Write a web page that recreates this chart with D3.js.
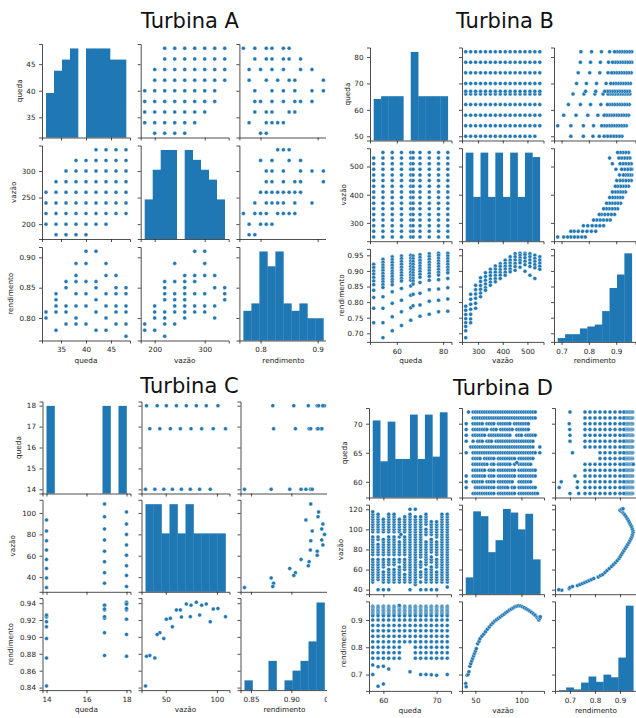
<!DOCTYPE html>
<html>
<head>
<meta charset="utf-8">
<style>
  body { margin: 0; background: #fff; }
  text { font-family: "DejaVu Sans", sans-serif; fill: #222; }
  .titulo { font-size: 21px; fill: #111; }
  .rotulo { font-size: 7.3px; }
  .tick text { font-size: 7.2px; fill: #222; }
  .tick line, .domain { stroke: #222; stroke-width: 0.8; }
</style>
<script src="https://cdn.jsdelivr.net/npm/d3@7"></script>
</head>
<body>
<script>
var W = 636, H = 718;
var AZUL = "#1f77b4";
var nomes = ["queda", "vazão", "rendimento"];

// ---------------- Turbina A ----------------
var quedaA = [32, 34, 36, 38, 40, 42, 44, 46, 48];
var vazaoPorQuedaA = [
  [200, 220, 240, 260],
  [180, 200, 220, 240, 260, 280],
  [180, 200, 220, 240, 260, 280, 300],
  [180, 200, 220, 240, 260, 280, 300, 320],
  [180, 200, 220, 240, 260, 280, 300, 320],
  [200, 220, 240, 260, 280, 300, 320, 340],
  [200, 220, 240, 260, 280, 300, 320, 340],
  [220, 240, 260, 280, 300, 320, 340],
  [220, 240, 260, 280, 300, 320, 340]
];
var rendPorQuedaA = [
  [0.81, 0.80],
  [0.84, 0.83, 0.82, 0.81, 0.78],
  [0.86, 0.85, 0.82, 0.81, 0.79],
  [0.89, 0.87, 0.86, 0.84, 0.82, 0.80, 0.79],
  [0.91, 0.89, 0.86, 0.84, 0.82, 0.79],
  [0.91, 0.86, 0.85, 0.83, 0.81, 0.78],
  [0.89, 0.87, 0.84, 0.82, 0.80, 0.78],
  [0.87, 0.85, 0.84, 0.82, 0.81, 0.79],
  [0.85, 0.84, 0.82, 0.81, 0.79, 0.77]
];
var vazaoA = [180, 200, 220, 240, 260, 280, 300, 320, 340];
var rendPorVazaoA = [
  [0.79, 0.78],
  [0.82, 0.81, 0.80, 0.78],
  [0.86, 0.85, 0.84, 0.83, 0.81, 0.80, 0.79, 0.77],
  [0.89, 0.86, 0.84, 0.83, 0.82, 0.81, 0.79],
  [0.87, 0.86, 0.85, 0.84, 0.83, 0.82, 0.81, 0.80],
  [0.91, 0.87, 0.86, 0.84, 0.82, 0.81],
  [0.91, 0.89, 0.87, 0.84, 0.82, 0.81],
  [0.87, 0.85, 0.82, 0.80],
  [0.85, 0.84, 0.83]
];
var histQuedaA = [4, 6, 7, 8, 0, 8, 8, 8, 7, 7];
var histVazaoA = [4, 7, 9, 9, 0, 9, 8, 7, 6, 4];
var histRendA = [4, 5, 12, 10, 12, 5, 4, 5, 3, 3];
var ticksXA = [[35, 40, 45], [200, 300], [0.8, 0.9]];
var ticksYA = [[35, 40, 45], [200, 250, 300], [0.80, 0.85, 0.90]];

// ---------------- Turbina B ----------------
var quedaB = [50, 54, 58, 62, 66, 67, 70, 74, 78, 82];
var vazaoB = [250, 270, 290, 310, 330, 350, 370, 390, 410, 430, 450, 470, 490, 510, 530, 550];
var faltaB = [[50, 550]];
var rendPorQuedaB = [
  [0.921, 0.911, 0.900, 0.890, 0.879, 0.868, 0.856, 0.838, 0.815, 0.780, 0.734],
  [0.937, 0.928, 0.919, 0.910, 0.901, 0.892, 0.883, 0.874, 0.865, 0.856, 0.847, 0.817, 0.780, 0.734, 0.686],
  [0.945, 0.936, 0.927, 0.918, 0.909, 0.900, 0.891, 0.882, 0.873, 0.865, 0.856, 0.833, 0.796, 0.753, 0.708],
  [0.948, 0.939, 0.930, 0.921, 0.912, 0.903, 0.894, 0.885, 0.876, 0.868, 0.844, 0.806, 0.769, 0.725],
  [0.950, 0.941, 0.932, 0.923, 0.914, 0.905, 0.896, 0.887, 0.878, 0.870, 0.852, 0.822, 0.782, 0.742],
  [0.948, 0.939, 0.930, 0.921, 0.912, 0.903, 0.894, 0.885, 0.876, 0.868, 0.858, 0.825, 0.788],
  [0.952, 0.943, 0.934, 0.925, 0.916, 0.907, 0.898, 0.889, 0.880, 0.863, 0.828, 0.791, 0.755],
  [0.955, 0.946, 0.937, 0.928, 0.919, 0.910, 0.901, 0.892, 0.883, 0.870, 0.840, 0.803, 0.761],
  [0.957, 0.950, 0.941, 0.932, 0.923, 0.914, 0.905, 0.896, 0.887, 0.872, 0.842, 0.806, 0.769],
  [0.957, 0.948, 0.939, 0.930, 0.921, 0.912, 0.903, 0.894, 0.876, 0.846, 0.810, 0.771]
];
var rendPorVazaoB = [
  [0.787, 0.774, 0.760, 0.747, 0.734, 0.722, 0.708, 0.686],
  [0.825, 0.809, 0.793, 0.777, 0.761, 0.746, 0.734],
  [0.854, 0.840, 0.826, 0.812, 0.796, 0.780],
  [0.878, 0.866, 0.853, 0.841, 0.829, 0.817],
  [0.894, 0.882, 0.870, 0.858, 0.846, 0.838],
  [0.905, 0.895, 0.885, 0.874, 0.864, 0.854],
  [0.916, 0.906, 0.896, 0.885, 0.875, 0.865],
  [0.923, 0.914, 0.904, 0.895, 0.886, 0.876],
  [0.934, 0.924, 0.915, 0.906, 0.896, 0.886],
  [0.945, 0.935, 0.925, 0.916, 0.906, 0.897],
  [0.955, 0.945, 0.935, 0.924, 0.914, 0.902],
  [0.957, 0.950, 0.942, 0.934, 0.926, 0.912],
  [0.957, 0.952, 0.942, 0.931, 0.920, 0.899],
  [0.955, 0.945, 0.935, 0.925, 0.914, 0.886],
  [0.950, 0.940, 0.930, 0.920, 0.910, 0.876],
  [0.945, 0.935, 0.925, 0.915, 0.905]
];
var histQuedaB = [15, 16, 16, 16, 0, 32, 16, 16, 16, 16];
var histVazaoB = [20, 10, 20, 10, 20, 10, 20, 10, 20, 19];
var histRendB = [2, 4, 4, 7, 8, 9, 16, 28, 35, 46];
var ticksXB = [[60, 80], [300, 400, 500], [0.7, 0.8, 0.9]];
var ticksYB = [[50, 60, 70, 80], [300, 400, 500], [0.70, 0.75, 0.80, 0.85, 0.90, 0.95]];

// ---------------- Turbina C (registros completos) ----------------
var quedaC = [14, 14, 14, 14, 14, 14, 14, 14,
              16.9, 16.9, 16.9, 16.9, 16.9, 16.9, 16.9, 16.9,
              18, 18, 18, 18, 18, 18, 18, 18];
var vazaoC = [30.2, 39.3, 48.1, 56.5, 65.3, 74.0, 83.1, 93.5,
              34.4, 44.2, 54.5, 64.3, 74.7, 85.1, 96.4, 108.4,
              31.2, 41.6, 50.6, 60.4, 70.1, 79.9, 89.6, 101];
var rendC = [0.842, 0.875, 0.898, 0.912, 0.9235, 0.924, 0.9258, 0.918,
             0.878, 0.905, 0.922, 0.932, 0.9376, 0.9376, 0.933, 0.924,
             0.877, 0.903, 0.921, 0.932, 0.939, 0.941, 0.939, 0.9337];
var ticksXC = [[14, 16, 18], [50, 100], [0.85, 0.90, 0.95]];
var ticksYC = [[14, 15, 16, 17, 18], [40, 60, 80, 100], [0.84, 0.86, 0.88, 0.90, 0.92, 0.94]];

// ---------------- Turbina D ----------------
var quedaD = [58, 59, 60, 61, 62, 63, 64, 65, 66, 67, 68, 69, 70, 71, 72];
var vazaoSlotsD = [40, 42.5, 45, 47.5, 50, 52.5, 55, 57.5, 60, 62.5, 65, 67.5, 70, 72.5, 75, 77.5,
                   80, 82.5, 85, 87.5, 90, 92.5, 95, 97.5, 100, 102.5, 105, 107.5, 110, 112.5, 115, 117.5, 120];
var mascaraVazaoD = [
  "...xxxxxxxxxx.xxxxxxxx.xxxxxxxxx.",
  "x...xxxxxxxxx.xxxxx.xx.xxxxxxxx..",
  "x..xxxxx.xxxx.xxxxxxx..xxxxxx....",
  "x..xxxxxx.xxx.xxxxxxxx.xxxxxxxx..",
  "...xxxxxx.xxx.xxxxxxxx.xxxxxxxx..",
  "...xxxxxxx.xx.xxxxxx.x.xxxxxx....",
  "...xxxx.xxxxx.xxxxxxxx.xxxxxxx...",
  "x..xxxxxxxxxxxxxxxxxxxxxxxxxxxx.x",
  "..xxxxxxxxxxxxxxxxxxxxxxxxxxxx..x",
  "x..x.xxx.xxx.xxxxxxxxxxxxxxxxx...",
  "x..xxxxxx.xxxxxxxxxx..xxx.xxxxx..",
  "x..xxxxxxx.xxx.xxxxxx.xxxxxx.....",
  "x..xxxxx.xxxx.xxxxxx.xxxxxxx.....",
  "...xxxxxxxxxxxxxxxxxxxxxxxxxxxx..",
  ".x.xxxxxxxxxxxxxxxxxxxxxxxxxxxx.."
];
var extraQuedaVazaoD = [[63.3, 95]];
var rendSlotsD = [0.95, 0.945, 0.94, 0.935, 0.93, 0.925, 0.92, 0.915, 0.90, 0.88, 0.86, 0.84, 0.82, 0.80, 0.78, 0.76];
var mascaraRendD = [
  "xxxxxxxxxxxxxxxx",
  "xxxxxxxxxxxxxxxx",
  "xxxxxxxxxxxxxxxx",
  "xxxxxxxxxxxxxxxx",
  "xxxxxxxxxxxxxxxx",
  "xxxxxxxxxxxxxxxx",
  "xxxxxxxxxxxxx...",
  "xxxxxxxxxxxxx...",
  "xxxxxxxxxxxxxxxx",
  "xxxxxxxxxxxxxxxx",
  "xxxxxxxxxxxxxxxx",
  "xxxxxxxxxxxxxxxx",
  "xxxxxxxxxxxxxxxx",
  "xxxxxxxxxxxxxxxx",
  "xxxxxxxxxxxxxxxx"
];
var extraQuedaRendD = [[58, 0.735], [58, 0.70], [59, 0.729], [59, 0.657], [60, 0.73], [60, 0.665],
                       [61, 0.72], [63, 0.953], [65, 0.71], [67, 0.70], [68, 0.70], [69, 0.699],
                       [70, 0.697], [72, 0.70]];
var curvaVazaoRendD = [
  [39.5, 0.667], [40, 0.655], [41, 0.697], [42, 0.700], [43, 0.71], [44, 0.73], [45, 0.74],
  [46, 0.75], [47, 0.759], [48, 0.768], [49, 0.777], [50, 0.786], [51, 0.795], [52.5, 0.813],
  [54, 0.822], [55, 0.831], [57, 0.84], [59, 0.848], [61, 0.857], [63, 0.866], [65, 0.874],
  [67, 0.882], [69, 0.889], [71, 0.896], [73, 0.901], [75, 0.906], [77, 0.911], [79, 0.916],
  [81, 0.921], [83, 0.926], [85, 0.931], [87, 0.936], [89, 0.940], [91, 0.944], [93, 0.948],
  [95, 0.950], [97, 0.952], [99, 0.951], [101, 0.948], [103, 0.945], [105, 0.941], [107, 0.937],
  [109, 0.933], [111, 0.928], [113, 0.923], [115, 0.917], [117, 0.910], [118, 0.905],
  [119, 0.900], [120, 0.906], [120.5, 0.912]
];
var histQuedaD = [66, 31, 65, 33, 33, 71, 33, 71, 35, 73];
var histVazaoD = [14, 69, 65, 35, 45, 71, 68, 54, 67, 29];
var histRendD = [2, 9, 4, 22, 38, 24, 43, 36, 88, 225];
var ticksXD = [[60, 70], [50, 100], [0.7, 0.8, 0.9]];
var ticksYD = [[60, 65, 70], [40, 60, 80, 100, 120], [0.7, 0.8, 0.9]];

// ---------------- helpers ----------------
function pares(chaves, listas) {
  var out = [];
  chaves.forEach(function(k, i) { listas[i].forEach(function(v) { out.push([k, v]); }); });
  return out;
}
function deMascara(chaves, slots, mascaras) {
  var out = [];
  chaves.forEach(function(k, i) {
    mascaras[i].split("").forEach(function(c, s) { if (c === "x") out.push([k, slots[s]]); });
  });
  return out;
}
function contar(vals) {
  var ext = d3.extent(vals), passo = (ext[1] - ext[0]) / 10;
  var lim = d3.range(1, 10).map(function(k) { return ext[0] + k * passo; });
  return d3.bin().domain(ext).thresholds(lim)(vals).map(function(b) { return b.length; });
}

var svg = d3.select("body").append("svg")
  .attr("width", W).attr("height", H)
  .style("display", "block");

function pairplot(c) {
  var g = svg.append("g");
  if (c.clip) {
    svg.append("clipPath").attr("id", "clip" + c.id)
      .append("rect").attr("x", 0).attr("y", 0).attr("width", c.clip).attr("height", H);
    g.attr("clip-path", "url(#clip" + c.id + ")");
  }
  g.append("text").attr("class", "titulo")
    .attr("x", c.tx).attr("y", c.ty).attr("text-anchor", "middle").text(c.titulo);

  var p = c.pares;
  var ext = [
    d3.extent(p["10"].map(d => d[0]).concat(p["20"].map(d => d[0]))),
    d3.extent(p["10"].map(d => d[1]).concat(p["21"].map(d => d[0]))),
    d3.extent(p["20"].map(d => d[1]).concat(p["21"].map(d => d[1])))
  ];
  var dom = ext.map(function(e) { var m = (e[1] - e[0]) * 0.05; return [e[0] - m, e[1] + m]; });
  var fx = [d3.format("d"), d3.format("d"), d3.format(c.fmtXr)];
  var fy = [d3.format("d"), d3.format("d"), d3.format(c.fmtYr)];

  for (var i = 0; i < 3; i++) {
    for (var j = 0; j < 3; j++) {
      var px = c.x0 + j * c.sx, py = c.y0 + i * c.sy;
      var x = d3.scaleLinear().domain(dom[j]).range([px, px + c.w]);
      var y = d3.scaleLinear().domain(dom[i]).range([py + c.h, py]);
      var cel = g.append("g");

      if (i === j) {
        var cont = c.hist[i], e = ext[i], passo = (e[1] - e[0]) / cont.length;
        var hy = d3.scaleLinear().domain([0, d3.max(cont) * 1.05]).range([py + c.h, py]);
        cel.selectAll("rect").data(cont).join("rect")
          .attr("x", (d, k) => x(e[0] + k * passo))
          .attr("width", (d, k) => x(e[0] + (k + 1) * passo) - x(e[0] + k * passo) + 0.3)
          .attr("y", d => hy(d))
          .attr("height", d => hy(0) - hy(d))
          .attr("fill", AZUL);
      } else {
        var pts = i > j ? p["" + i + j] : p["" + j + i].map(d => [d[1], d[0]]);
        cel.selectAll("circle").data(pts).join("circle")
          .attr("cx", d => x(d[0]))
          .attr("cy", d => y(d[1]))
          .attr("r", 2)
          .attr("fill", AZUL)
          .attr("stroke", "#fff")
          .attr("stroke-width", 0.4);
      }

      var axB = d3.axisBottom(x).tickValues(c.ticksX[j]).tickSizeOuter(0).tickSize(3).tickPadding(3.5)
        .tickFormat(i === 2 ? fx[j] : "");
      cel.append("g").attr("transform", "translate(0," + (py + c.h) + ")").call(axB);
      var axL = d3.axisLeft(y).tickValues(c.ticksY[i]).tickSizeOuter(0).tickSize(3).tickPadding(3.5)
        .tickFormat(j === 0 ? fy[i] : "");
      cel.append("g").attr("transform", "translate(" + px + ",0)").call(axL);

      if (i === 2) {
        g.append("text").attr("class", "rotulo")
          .attr("x", px + c.w / 2).attr("y", c.ly).attr("text-anchor", "middle").text(nomes[j]);
      }
      if (j === 0) {
        g.append("text").attr("class", "rotulo")
          .attr("transform", "translate(" + c.lx[i] + "," + (py + c.h / 2) + ") rotate(-90)")
          .attr("text-anchor", "middle").text(nomes[i]);
      }
    }
  }
}

// pares do triângulo inferior: "10" = (queda, vazão), "20" = (queda, rend.), "21" = (vazão, rend.)
var qvB = [];
quedaB.forEach(function(q) {
  vazaoB.forEach(function(v) {
    if (!faltaB.some(f => f[0] === q && f[1] === v)) qvB.push([q, v]);
  });
});

var paresC = {
  "10": quedaC.map((q, k) => [q, vazaoC[k]]),
  "20": quedaC.map((q, k) => [q, rendC[k]]),
  "21": vazaoC.map((v, k) => [v, rendC[k]])
};

pairplot({
  id: "A", titulo: "Turbina A", tx: 190, ty: 27.5, clip: 326,
  x0: 42, sx: 98.7, w: 88, y0: 44, sy: 101.5, h: 93.5, lx: [22, 16, 13], ly: 362.5,
  fmtXr: ".1f", fmtYr: ".2f", ticksX: ticksXA, ticksY: ticksYA,
  hist: [histQuedaA, histVazaoA, histRendA],
  pares: { "10": pares(quedaA, vazaoPorQuedaA), "20": pares(quedaA, rendPorQuedaA), "21": pares(vazaoA, rendPorVazaoA) }
});

pairplot({
  id: "B", titulo: "Turbina B", tx: 505, ty: 27.5, clip: null,
  x0: 370, sx: 92, w: 81.5, y0: 47.5, sy: 100.7, h: 93, lx: [350, 346, 344], ly: 363,
  fmtXr: ".1f", fmtYr: ".2f", ticksX: ticksXB, ticksY: ticksYB,
  hist: [histQuedaB, histVazaoB, histRendB],
  pares: { "10": qvB, "20": pares(quedaB, rendPorQuedaB), "21": pares(vazaoB, rendPorVazaoB) }
});

pairplot({
  id: "C", titulo: "Turbina C", tx: 189.5, ty: 393, clip: 327,
  x0: 42.5, sx: 99, w: 88, y0: 401.5, sy: 98.3, h: 92, lx: [21, 15, 13], ly: 712,
  fmtXr: ".2f", fmtYr: ".2f", ticksX: ticksXC, ticksY: ticksYC,
  hist: [contar(quedaC), contar(vazaoC), contar(rendC)],
  pares: paresC
});

pairplot({
  id: "D", titulo: "Turbina D", tx: 503, ty: 395, clip: null,
  x0: 369, sx: 93, w: 82, y0: 408, sy: 96.7, h: 89.5, lx: [347, 343, 346], ly: 713,
  fmtXr: ".1f", fmtYr: ".1f", ticksX: ticksXD, ticksY: ticksYD,
  hist: [histQuedaD, histVazaoD, histRendD],
  pares: {
    "10": deMascara(quedaD, vazaoSlotsD, mascaraVazaoD).concat(extraQuedaVazaoD),
    "20": deMascara(quedaD, rendSlotsD, mascaraRendD).concat(extraQuedaRendD),
    "21": curvaVazaoRendD
  }
});
</script>
</body>
</html>
